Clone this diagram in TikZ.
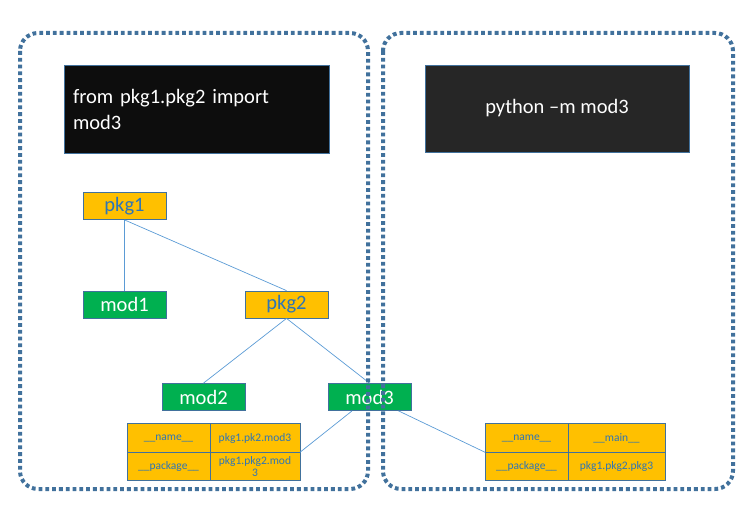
\documentclass[tikz,border=0pt]{standalone}
\usepackage{fontspec}
\setmainfont{Carlito}
\usepackage{xcolor}
\usetikzlibrary{positioning}
\definecolor{frameblue}{RGB}{65,113,156}
\definecolor{lineblue}{RGB}{91,155,213}
\definecolor{pkgorange}{RGB}{255,192,0}
\definecolor{modgreen}{RGB}{0,176,80}
\definecolor{pkgtext}{RGB}{46,117,182}
\tikzset{
	pkg/.style={draw=frameblue, line width=0.8pt, fill=pkgorange, text=pkgtext, minimum width=83pt, minimum height=27pt, inner sep=0pt, font=\fontsize{20.5}{22}\selectfont},
	mod/.style={pkg, fill=modgreen, text=white},
	cell/.style={draw=frameblue, line width=0.8pt, fill=pkgorange, text=pkgtext, minimum height=28.5pt, inner sep=0pt, outer sep=0pt, align=center, font=\fontsize{11.5}{12}\selectfont},
	link/.style={draw=lineblue, line width=0.7pt},
	frame/.style={draw=frameblue, line width=4pt, dash pattern=on 3.8pt off 3pt, rounded corners=18pt},
	cmd/.style={draw=frameblue, line width=0.8pt, text=white, minimum width=265pt, minimum height=88pt, inner sep=0pt, font=\fontsize{20.5}{26}\selectfont}
}
\begin{document}
\begin{tikzpicture}[x=1pt,y=-1pt]
	\useasboundingbox (0,0) rectangle (749,511);
	%commands
	\node[cmd, fill={rgb,255:red,13;green,13;blue,13}, text width=247pt, align=left] (cmdimport) at (196.5,109) {from pkg1.pkg2 import\\mod3};
	\node[cmd, fill={rgb,255:red,38;green,38;blue,38}, minimum width=264pt, minimum height=87pt] (cmdrun) at (557,108.5) {python –m mod3};
	%packages and modules
	\node[pkg] (pkg1) at (124.5,206) {pkg1};
	\node[mod] (mod1) at (124.5,304.5) {mod1};
	\node[pkg] (pkg2) at (286.5,304.5) {pkg2};
	\node[mod] (mod2) at (203.5,397) {mod2};
	\node[mod] (mod3) at (369.5,397) {mod3};
	%tree
	\draw[link] (pkg1.south) -- (mod1.north);
	\draw[link] (pkg1.south) -- (pkg2.north);
	\draw[link] (pkg2.south) -- (mod2.north);
	\draw[link] (pkg2.south) -- (mod3.north);
	%attributes, imported
	\node[cell, minimum width=83pt] (lname) at (168.5,438) {\_\_name\_\_};
	\node[cell, minimum width=90pt, right=0pt of lname] (lnameval) {pkg1.pk2.mod3};
	\node[cell, minimum width=83pt, below=0pt of lname] (lpack) {\_\_package\_\_};
	\node[cell, minimum width=90pt, right=0pt of lpack] (lpackval) {pkg1.pkg2.mod\\3};
	%attributes, run as main
	\node[cell, minimum width=83pt] (rname) at (526.5,438) {\_\_name\_\_};
	\node[cell, minimum width=97pt, right=0pt of rname] (rnameval) {\_\_main\_\_};
	\node[cell, minimum width=83pt, below=0pt of rname] (rpack) {\_\_package\_\_};
	\node[cell, minimum width=97pt, right=0pt of rpack] (rpackval) {pkg1.pkg2.pkg3};
	\draw[link] (lnameval.south east) -- (mod3);
	\draw[link] (rname.south west) -- (mod3);
	%frames
	\draw[frame] (20,33) rectangle (368,489);
	\draw[frame] (383,33) rectangle (733,489);
\end{tikzpicture}
\end{document}
